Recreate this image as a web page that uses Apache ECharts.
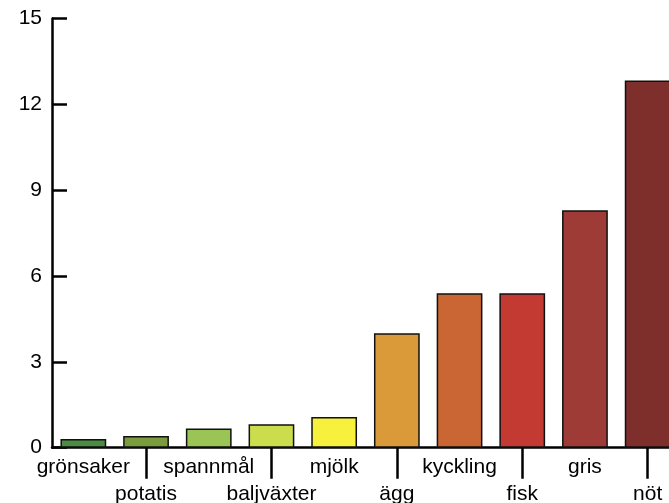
<!DOCTYPE html>
<html>
<head>
<meta charset="utf-8">
<script src="https://cdn.jsdelivr.net/npm/echarts@6/dist/echarts.min.js"></script>
<style>html,body{margin:0;padding:0;background:#fff;}#c{width:669px;height:503px;}</style>
</head>
<body>
<div id="c"></div>
<script>
const categories = ['grönsaker','potatis','spannmål','baljväxter','mjölk','ägg','kyckling','fisk','gris','nöt'];
const values = [0.3, 0.41, 0.67, 0.82, 1.07, 4.0, 5.4, 5.4, 8.3, 12.83];
const barColors = ['#4b8b43','#7a9c3f','#9ac453','#cbdd4d','#f7f03c','#db9a3a','#ca6633','#c33a32','#9e3b36','#7e2e2b'];
const yTicks = [0, 3, 6, 9, 12, 15];

const chart = echarts.init(document.getElementById('c'));
chart.setOption({
  animation: false,
  grid: { left: 52, top: 18.4, bottom: 55.3, width: 627, containLabel: false, outerBoundsMode: 'none' },
  xAxis: {
    type: 'category',
    data: categories,
    axisLine: { show: true, lineStyle: { color: '#000', width: 2.5 } },
    axisTick: {
      show: true,
      alignWithLabel: true,
      length: 31,
      interval: function (i) { return i % 2 === 1; },
      lineStyle: { color: '#000', width: 2.5 }
    },
    axisLabel: {
      interval: 0,
      margin: 6,
      color: '#000',
      fontFamily: 'Liberation Sans, Arial, sans-serif',
      fontSize: 21,
      lineHeight: 27,
      formatter: function (v, i) { return i % 2 === 1 ? '\n' + v : v; }
    }
  },
  yAxis: {
    type: 'value',
    min: yTicks[0],
    max: yTicks[yTicks.length - 1],
    interval: 3,
    splitLine: { show: false },
    axisLine: { show: true, lineStyle: { color: '#000', width: 2.5 } },
    axisTick: { show: true, inside: true, length: 15, lineStyle: { color: '#000', width: 2.5 } },
    axisLabel: {
      margin: 10,
      color: '#000',
      fontFamily: 'Liberation Sans, Arial, sans-serif',
      fontSize: 21
    }
  },
  series: [{
    type: 'bar',
    data: values.map((v, i) => ({ value: v, itemStyle: { color: barColors[i] } })),
    barCategoryGap: '27%',
    itemStyle: { borderColor: '#111', borderWidth: 1.5 },
    clip: false
  }]
});
</script>
</body>
</html>
